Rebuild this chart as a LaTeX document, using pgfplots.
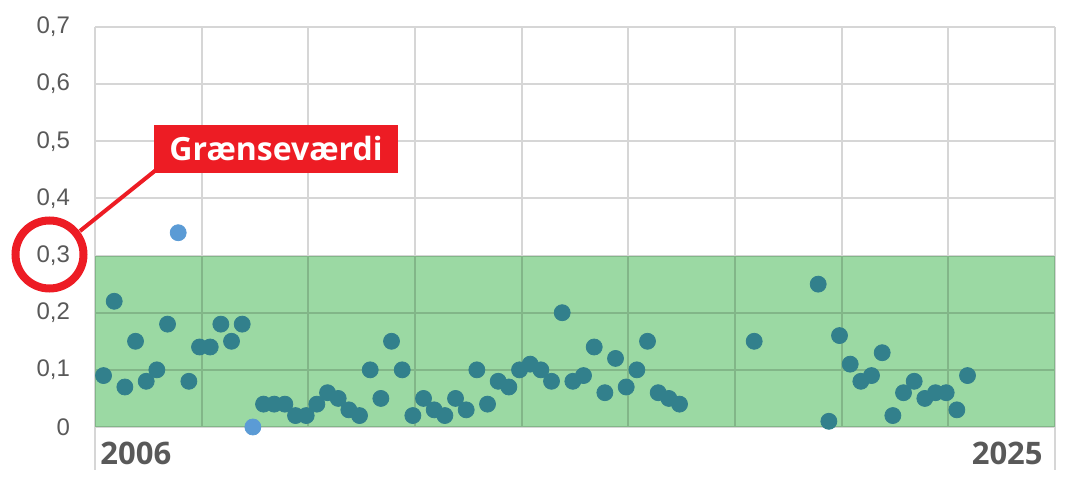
\documentclass[border=0pt]{standalone}
\usepackage{fontspec}
\setmainfont{Liberation Sans}
\newfontfamily\labelfont{Open Sans}
\usepackage{pgfplots}
\usepackage{pgfplotstable}
\pgfplotsset{compat=1.18}

\definecolor{gridgray}{RGB}{214,214,214}
\definecolor{labelgray}{RGB}{89,89,89}
\definecolor{dotblue}{RGB}{91,155,213}
\definecolor{dotteal}{RGB}{50,128,140}
\definecolor{bandfill}{RGB}{155,217,163}
\definecolor{markred}{RGB}{237,28,36}

% measurements inside the limit
\pgfplotstableread{
x y
0 0.09
1 0.22
2 0.07
3 0.15
4 0.08
5 0.10
6 0.18
8 0.08
9 0.14
10 0.14
11 0.18
12 0.15
13 0.18
15 0.04
16 0.04
17 0.04
18 0.02
19 0.02
20 0.04
21 0.06
22 0.05
23 0.03
24 0.02
25 0.10
26 0.05
27 0.15
28 0.10
29 0.02
30 0.05
31 0.03
32 0.02
33 0.05
34 0.03
35 0.10
36 0.04
37 0.08
38 0.07
39 0.10
40 0.11
41 0.10
42 0.08
43 0.20
44 0.08
45 0.09
46 0.14
47 0.06
48 0.12
49 0.07
50 0.10
51 0.15
52 0.06
53 0.05
54 0.04
61 0.15
67 0.25
68 0.01
69 0.16
70 0.11
71 0.08
72 0.09
73 0.13
74 0.02
75 0.06
76 0.08
77 0.05
78 0.06
79 0.06
80 0.03
81 0.09
}\inside

% points drawn on top of the band
\pgfplotstableread{
x y
7 0.34
14 0
}\outside

\begin{document}
\begin{tikzpicture}
\useasboundingbox (0,0) rectangle (536pt,243.5pt);
\begin{axis}[
    at={(47.5pt,30pt)}, anchor=south west,
    scale only axis,
    width=480pt, height=200pt,
    xmin=-0.8, xmax=89.2,
    ymin=0, ymax=0.7,
    xtick={-0.8,9.2,19.2,29.2,39.2,49.2,59.2,69.2,79.2,89.2},
    xticklabels={},
    ytick={0,0.1,0.2,0.3,0.4,0.5,0.6,0.7},
    major tick length=0pt,
    grid=major,
    grid style={color=gridgray, line width=1pt},
    axis line style={draw=none},
    /pgf/number format/.cd, use comma, fixed, precision=1, assume math mode=true,
    /pgfplots/.cd,
    tick label style={font=\fontsize{12}{14}\selectfont, text=labelgray},
    yticklabel style={xshift=-9pt},
    clip=false,
]
\addplot[draw=none, fill=bandfill, blend mode=multiply] coordinates {(-0.8,0.3) (89.2,0.3)} \closedcycle;
\addplot[only marks, mark=*, mark size=4pt, color=dotteal, draw=none] table {\inside};
\addplot[only marks, mark=*, mark size=4pt, color=dotblue, draw=none] table {\outside};

\draw[gridgray, line width=1pt] (axis cs:-0.8,0) -- (axis cs:-0.8,-0.075);
\draw[gridgray, line width=1pt] (axis cs:89.2,0) -- (axis cs:89.2,-0.075);
\node[anchor=west, inner sep=0pt, text=labelgray, font=\labelfont\bfseries\fontsize{15.5}{17}\selectfont]
  at ([xshift=2.5pt]axis cs:-0.8,-0.047) {2006};
\node[anchor=east, inner sep=0pt, text=labelgray, font=\labelfont\bfseries\fontsize{15.5}{17}\selectfont]
  at ([xshift=-6pt]axis cs:89.2,-0.047) {2025};
\end{axis}

% limit-value callout
\draw[markred, line width=2pt] (40pt,128pt) -- (78pt,158.5pt);
\draw[markred, line width=4pt] (24.75pt,116.25pt) circle (17pt);
\node[fill=markred, text=white, minimum width=122pt, minimum height=24pt, inner sep=0pt,
      font=\labelfont\bfseries\fontsize{16}{18}\selectfont] at (138pt,169pt) {Grænseværdi};
\end{tikzpicture}
\end{document}
